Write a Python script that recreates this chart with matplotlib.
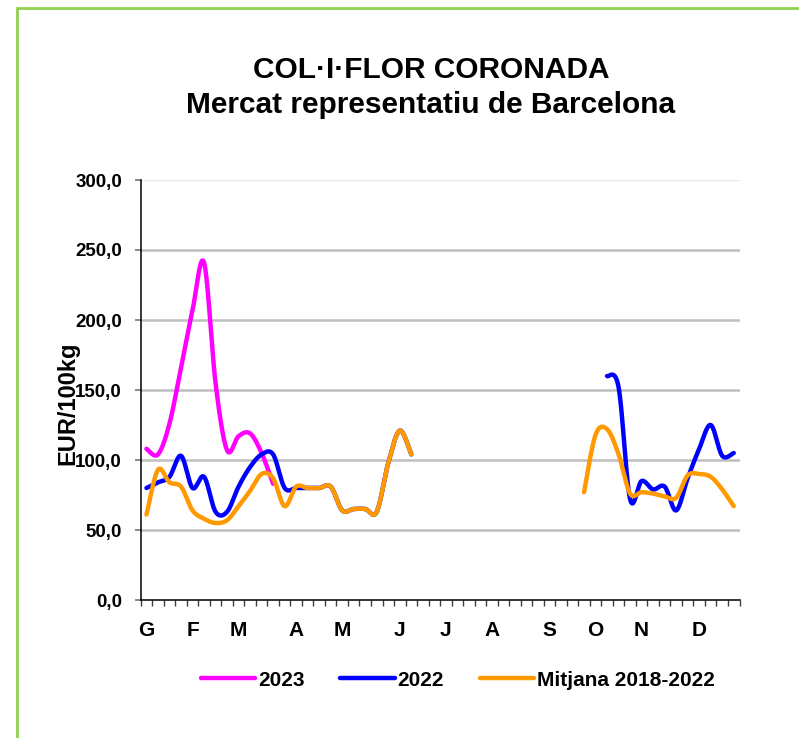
import numpy as np
import matplotlib
matplotlib.use("Agg")
import matplotlib.pyplot as plt
from matplotlib.patches import Rectangle
from matplotlib.lines import Line2D

plt.rcParams['font.family'] = ['Liberation Sans', 'DejaVu Sans']
plt.rcParams['font.weight'] = 'bold'

N = 52
months = ["G", "F", "M", "A", "M", "J", "J", "A", "S", "O", "N", "D"]
month_week = [0, 4, 8, 13, 17, 22, 26, 30, 35, 39, 43, 48]

na = None
# setmanes 1-12 (2023)
p2023 = [108, 104, 126, 166, 207, 241, 155, 107, 117, 119, 105, 83] + [na] * 40
# 2022: gener-juny, buit, octubre-desembre
p2022 = ([80, 84, 88, 103, 80, 88, 63, 63, 81, 95, 104, 104, 80, 80,
          80, 80, 81, 64, 65, 65, 63, 98, 121, 104] + [na] * 16 +
         [160, 152, 72, 85, 79, 81, 64, 87, 108, 125, 103, 105])
pmit = ([61, 93, 84, 81, 64, 58, 55, 57, 67, 78, 90, 87, 67, 81,
         80, 80, 81, 64, 65, 65, 63, 98, 121, 104] + [na] * 14 +
        [77, 118, 122, 104, 76, 77, 76, 74, 73, 89, 90, 88, 79, 67])

series = [("2023", p2023, "#FF00FF"),
          ("2022", p2022, "#0000FF"),
          ("Mitjana 2018-2022", pmit, "#FF9900")]


def smooth(xs, ys, n=20):
    # corba suavitzada tipus Excel (Catmull-Rom / Bezier 1/6)
    xs = np.asarray(xs, float); ys = np.asarray(ys, float)
    if len(xs) < 2:
        return xs, ys
    P = np.column_stack([xs, ys])
    P = np.vstack([P[0], P, P[-1]])
    out = []
    t = np.linspace(0, 1, n)[:, None]
    for k in range(1, len(P) - 2):
        p0, p1, p2, p3 = P[k - 1], P[k], P[k + 1], P[k + 2]
        c1 = p1 + (p2 - p0) / 6
        c2 = p2 - (p3 - p1) / 6
        seg = ((1 - t) ** 3) * p1 + 3 * ((1 - t) ** 2) * t * c1 + 3 * (1 - t) * t ** 2 * c2 + t ** 3 * p2
        out.append(seg if k == 1 else seg[1:])
    out = np.vstack(out)
    return out[:, 0], out[:, 1]


def runs(vals):
    cur = []
    for i, v in enumerate(vals):
        if v is None:
            if cur:
                yield cur
            cur = []
        else:
            cur.append(i)
    if cur:
        yield cur


fig = plt.figure(figsize=(7.99, 7.38), dpi=100)
W, H = 799, 738
fig.patches.append(Rectangle((17 / W, -0.1), 2, 1.1 - 8 / H, transform=fig.transFigure,
                             fill=False, edgecolor="#92D050", lw=2))

ax = fig.add_axes([140.7 / W, 1 - 600 / H, (739.5 - 140.7) / W, 420 / H])
ax.set_xlim(0, N)
ax.set_ylim(0, 300)

for g in [50, 100, 150, 200, 250]:
    ax.axhline(g, color="#BFBFBF", lw=1.8, zorder=1)
ax.axhline(300, color="#E6E6E6", lw=1.5, zorder=1)

for name, vals, col in series:
    for r in runs(vals):
        xs = [i + 0.5 for i in r]
        ys = [vals[i] for i in r]
        sx, sy = smooth(xs, ys)
        ax.plot(sx, sy, color=col, lw=3.2, solid_capstyle="round", zorder=3)

for s in ["top", "right"]:
    ax.spines[s].set_visible(False)
ax.spines["left"].set_color("black")
ax.spines["bottom"].set_color("black")
ax.spines["left"].set_linewidth(1.1)
ax.spines["bottom"].set_linewidth(1.1)

ax.set_yticks(np.arange(0, 301, 50))
ax.set_yticklabels([f"{v:.1f}".replace(".", ",") for v in np.arange(0, 301, 50)],
                   fontsize=13.5, fontweight="bold")
ax.tick_params(axis="y", direction="out", length=4.5, width=1.3, color="#808080", pad=9)

ax.set_xticks(np.arange(0, N + 1), minor=True)
ax.set_xticks([w + 0.5 for w in month_week])
ax.set_xticklabels(months, fontsize=15, fontweight="bold")
ax.tick_params(axis="x", which="major", length=0, pad=15)
ax.tick_params(axis="x", which="minor", direction="out", length=4.5, width=1, color="#404040")

fig.text(68 / W, 1 - 403 / H, "EUR/100kg", rotation=90, ha="center", va="center",
         fontsize=17, fontweight="bold")

fig.text(431 / W, 1 - 70 / H, "COL·I·FLOR CORONADA", ha="center", va="center",
         fontsize=21.5, fontweight="bold")
fig.text(431 / W, 1 - 105 / H, "Mercat representatiu de Barcelona", ha="center", va="center",
         fontsize=21.5, fontweight="bold")

handles = [Line2D([0], [0], color=c, lw=3.2, solid_capstyle="round") for _, _, c in series]
fig.legend(handles, [s[0] for s in series], loc="center", bbox_to_anchor=(458 / W, 1 - 680 / H),
           ncol=3, frameon=False, handlelength=2.6, handletextpad=0.15,
           columnspacing=1.7, prop={"weight": "bold", "size": 15})

fig.savefig("out.png", dpi=100, facecolor="white")
